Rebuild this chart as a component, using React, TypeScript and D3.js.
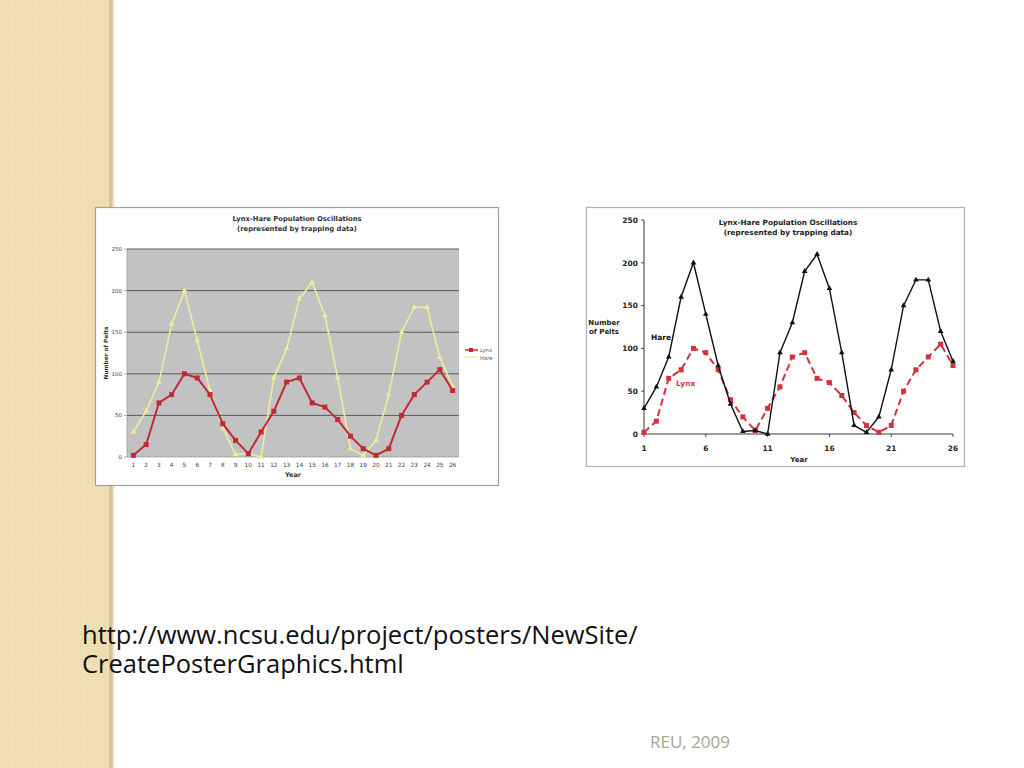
import React from "react";
import * as d3 from "d3";

const years = d3.range(1, 27);
const lynx = [2, 15, 65, 75, 100, 95, 75, 40, 20, 4, 30, 55, 90, 95, 65, 60, 45, 25, 10, 2, 10, 50, 75, 90, 105, 80];
const hare = [30, 55, 90, 160, 200, 140, 80, 35, 3, 4, 0, 95, 130, 190, 210, 170, 95, 10, 2, 20, 75, 150, 180, 180, 120, 85];
const yTicks = [0, 50, 100, 150, 200, 250];
const rightXTicks = [1, 6, 11, 16, 21, 26];
const titleLines = ["Lynx-Hare Population Oscillations", "(represented by trapping data)"];
const urlLines = ["http://www.ncsu.edu/project/posters/NewSite/", "CreatePosterGraphics.html"];
const footer = "REU, 2009";

const chartFont = "'DejaVu Sans', Verdana, sans-serif";

function LeftChart() {
  const x = d3.scaleBand<number>().domain(years).range([127, 459]);
  const y = d3.scaleLinear().domain([0, 250]).range([457, 249]);
  const cx = (d: number) => (x(d) as number) + x.bandwidth() / 2;
  const line = d3.line<number>().x((_, i) => cx(years[i])).y((v) => y(v));
  const tri = d3.symbol().type(d3.symbolTriangle).size(14)();
  return (
    <g fontFamily={chartFont}>
      <rect x={95.5} y={207.5} width={403} height={278} fill="#fff" stroke="#a0a0a0" strokeWidth={1.2} />
      <rect x={127} y={249} width={332} height={208} fill="#c2c2c2" />
      {yTicks.map((t) => (
        <g key={t}>
          {t > 0 && <line x1={127} x2={459} y1={y(t)} y2={y(t)} stroke="#5a5a5a" strokeWidth={1} />}
          <line x1={124} x2={127} y1={y(t)} y2={y(t)} stroke="#777" strokeWidth={0.6} />
          <text x={122} y={y(t) + 2} fontSize={5.5} textAnchor="end" fill="#444">{t}</text>
        </g>
      ))}
      <line x1={127} x2={127} y1={249} y2={457} stroke="#888" strokeWidth={0.6} />
      <line x1={127} x2={459} y1={457} y2={457} stroke="#888" strokeWidth={0.6} />
      {years.map((yr) => (
        <text key={yr} x={cx(yr)} y={467} fontSize={5.8} textAnchor="middle" fill="#444">{yr}</text>
      ))}
      <text x={293} y={477} fontSize={6.5} fontWeight="bold" textAnchor="middle" fill="#333">Year</text>
      <text transform="translate(108,353) rotate(-90)" fontSize={5.8} fontWeight="bold" textAnchor="middle" fill="#333">Number of Pelts</text>
      {titleLines.map((t, i) => (
        <text key={t} x={297} y={221 + i * 9.5} fontSize={6.8} fontWeight="bold" textAnchor="middle" fill="#333">{t}</text>
      ))}
      <path d={line(hare) || ""} fill="none" stroke="#eeee9a" strokeWidth={1.6} />
      {hare.map((v, i) => (
        <path key={i} d={tri || ""} transform={`translate(${cx(years[i])},${y(v)})`} fill="#eeee9a" />
      ))}
      <path d={line(lynx) || ""} fill="none" stroke="#c02a35" strokeWidth={2} />
      {lynx.map((v, i) => (
        <rect key={i} x={cx(years[i]) - 2.5} y={y(v) - 2.5} width={5} height={5} fill="#c02a35" />
      ))}
      <line x1={465} x2={478} y1={350} y2={350} stroke="#c02a35" strokeWidth={1.5} />
      <rect x={469} y={348} width={4} height={4} fill="#c02a35" />
      <text x={480} y={352} fontSize={5.3} fill="#555">Lynx</text>
      <line x1={465} x2={478} y1={357} y2={357} stroke="#eeee9a" strokeWidth={1.2} />
      <text x={480} y={359.5} fontSize={5.3} fill="#555">Hare</text>
    </g>
  );
}

function RightChart() {
  const x = d3.scaleLinear().domain([1, 26]).range([644, 953]);
  const y = d3.scaleLinear().domain([0, 250]).range([434, 220]);
  const line = d3.line<number>().x((_, i) => x(years[i])).y((v) => y(v));
  const tri = d3.symbol().type(d3.symbolTriangle).size(14)();
  return (
    <g fontFamily={chartFont}>
      <rect x={586.5} y={207.5} width={378} height={259} fill="#fff" stroke="#b0b0b0" strokeWidth={1.2} />
      {yTicks.map((t) => (
        <g key={t}>
          <line x1={641} x2={644} y1={y(t)} y2={y(t)} stroke="#222" strokeWidth={0.8} />
          <text x={638} y={y(t) + 2.7} fontSize={7.5} fontWeight="bold" textAnchor="end" fill="#222">{t}</text>
        </g>
      ))}
      {rightXTicks.map((t) => (
        <g key={t}>
          <line x1={x(t)} x2={x(t)} y1={434} y2={437} stroke="#222" strokeWidth={0.8} />
          <text x={x(t)} y={451} fontSize={7.5} fontWeight="bold" textAnchor="middle" fill="#222">{t}</text>
        </g>
      ))}
      <line x1={644} x2={644} y1={220} y2={434} stroke="#222" strokeWidth={0.9} />
      <line x1={644} x2={953} y1={434} y2={434} stroke="#222" strokeWidth={0.9} />
      <text x={799} y={462} fontSize={7} fontWeight="bold" textAnchor="middle" fill="#222">Year</text>
      <text x={604} y={325} fontSize={7} fontWeight="bold" textAnchor="middle" fill="#222">Number</text>
      <text x={604} y={334} fontSize={7} fontWeight="bold" textAnchor="middle" fill="#222">of Pelts</text>
      {titleLines.map((t, i) => (
        <text key={t} x={788} y={225 + i * 10} fontSize={7.3} fontWeight="bold" textAnchor="middle" fill="#222">{t}</text>
      ))}
      <path d={line(lynx) || ""} fill="none" stroke="#d0333d" strokeWidth={2} strokeDasharray="7,4" />
      {lynx.map((v, i) => (
        <rect key={i} x={x(years[i]) - 2.5} y={y(v) - 2.5} width={5} height={5} fill="#d0333d" />
      ))}
      <path d={line(hare) || ""} fill="none" stroke="#111" strokeWidth={1.4} />
      {hare.map((v, i) => (
        <path key={i} d={tri || ""} transform={`translate(${x(years[i])},${y(v)})`} fill="#111" />
      ))}
      <text x={651} y={340} fontSize={7.5} fontWeight="bold" fill="#111">Hare</text>
      <text x={676} y={386} fontSize={7.5} fontWeight="bold" fill="#d0333d">Lynx</text>
    </g>
  );
}

export default function App() {
  return (
    <div style={{ position: "fixed", left: 0, top: 0 }}>
      <svg width={1024} height={768} viewBox="0 0 1024 768" style={{ display: "block" }}>
        <defs>
          <pattern id="weave" width={6} height={6} patternUnits="userSpaceOnUse">
            <rect width={6} height={6} fill="#f1e0b6" />
            <circle cx={3} cy={3} r={1.6} fill="none" stroke="#e6d0a0" strokeWidth={0.6} />
          </pattern>
          <linearGradient id="shadow" x1="0" x2="1" y1="0" y2="0">
            <stop offset="0" stopColor="#d9c293" />
            <stop offset="1" stopColor="#ffffff" stopOpacity={0} />
          </linearGradient>
        </defs>
        <rect width={1024} height={768} fill="#fff" />
        <rect x={0} y={0} width={111} height={768} fill="url(#weave)" />
        <rect x={109} y={0} width={3} height={768} fill="#d8c291" />
        <rect x={112} y={0} width={4} height={768} fill="url(#shadow)" />
        <LeftChart />
        <RightChart />
        {urlLines.map((t, i) => (
          <text key={t} x={82} y={644 + i * 28.5} fontSize={25.5} fontFamily="'Open Sans', sans-serif" fill="#111">{t}</text>
        ))}
        <text x={650} y={748} fontSize={17} fontFamily="'Open Sans', sans-serif" fill="#aaa58c">{footer}</text>
      </svg>
    </div>
  );
}
